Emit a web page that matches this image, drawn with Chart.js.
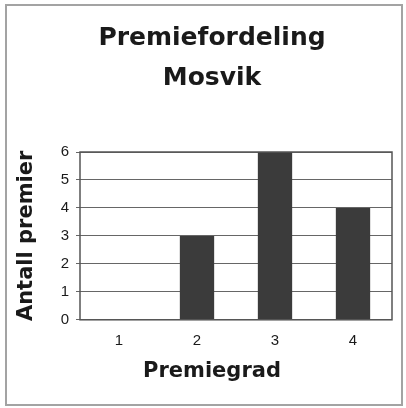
<!DOCTYPE html>
<html>
<head>
<meta charset="utf-8">
<script src="https://cdn.jsdelivr.net/npm/chart.js@4/dist/chart.umd.min.js"></script>
<style>
  html, body { margin: 0; padding: 0; background: #fff; }
  #frame {
    position: absolute; left: 5px; top: 4px; width: 398px; height: 402px;
    box-sizing: border-box; border: 2px solid #a3a3a3;
  }
  #chart { position: absolute; left: 0; top: 0; }
</style>
</head>
<body>
<div id="frame"></div>
<canvas id="chart" width="406" height="408"></canvas>
<script>
// data
const categories = ['1', '2', '3', '4']
const premier = [0, 3, 6, 4]
const yMin = 0
const yMax = 6

const titleLines = ['Premiefordeling', 'Mosvik']
const xTitle = 'Premiegrad'
const yTitle = 'Antall premier'

const boldFont = '"DejaVu Sans", sans-serif'
const tickFont = '"Liberation Sans", Arial, sans-serif'

// frame around the plot area (top + right sides too)
const plotFrame = {
  id: 'plotFrame',
  afterDatasetsDraw(chart) {
    const { ctx, chartArea: a } = chart
    ctx.save()
    ctx.strokeStyle = '#555'
    ctx.lineWidth = 1.5
    ctx.strokeRect(a.left, a.top, a.right - a.left, a.bottom - a.top)
    ctx.restore()
  }
}

const ctx = document.getElementById('chart').getContext('2d')
const chart = new Chart(ctx, {
  type: 'bar',
  data: {
    labels: categories,
    datasets: [{
      data: premier,
      backgroundColor: '#3b3b3b',
      borderWidth: 0,
      barPercentage: 0.44,
      categoryPercentage: 1
    }]
  },
  options: {
    responsive: false,
    animation: false,
    layout: { padding: { left: 32, right: 14, top: 0, bottom: 0 } },
    plugins: {
      legend: { display: false },
      tooltip: { enabled: false },
      title: {
        display: true,
        text: titleLines,
        color: '#1a1a1a',
        font: { family: boldFont, size: 25, weight: 'bold', lineHeight: 1.6 },
        padding: { top: 18, bottom: 54 }
      },
      subtitle: {
        display: true,
        position: 'bottom',
        text: xTitle,
        color: '#1a1a1a',
        font: { family: boldFont, size: 21, weight: 'bold', lineHeight: 1.2 },
        padding: { top: 9, bottom: 24 }
      }
    },
    scales: {
      x: {
        grid: { display: false, drawTicks: false },
        border: { display: false },
        ticks: { color: '#1a1a1a', font: { family: tickFont, size: 15 }, padding: 12 },
        afterFit(scale) { scale.height = 30 }
      },
      y: {
        min: yMin,
        max: yMax,
        grid: { color: '#666', lineWidth: 1, tickLength: 4 },
        border: { display: false },
        ticks: { stepSize: 1, color: '#1a1a1a', font: { family: tickFont, size: 15 }, padding: 7 },
        title: {
          display: true,
          text: yTitle,
          color: '#1a1a1a',
          font: { family: boldFont, size: 21, weight: 'bold', lineHeight: 1.2 },
          padding: { top: -17.6, bottom: 0 }
        },
        afterFit(scale) { scale.width = 48 }
      }
    }
  },
  plugins: [plotFrame]
})
</script>
</body>
</html>
